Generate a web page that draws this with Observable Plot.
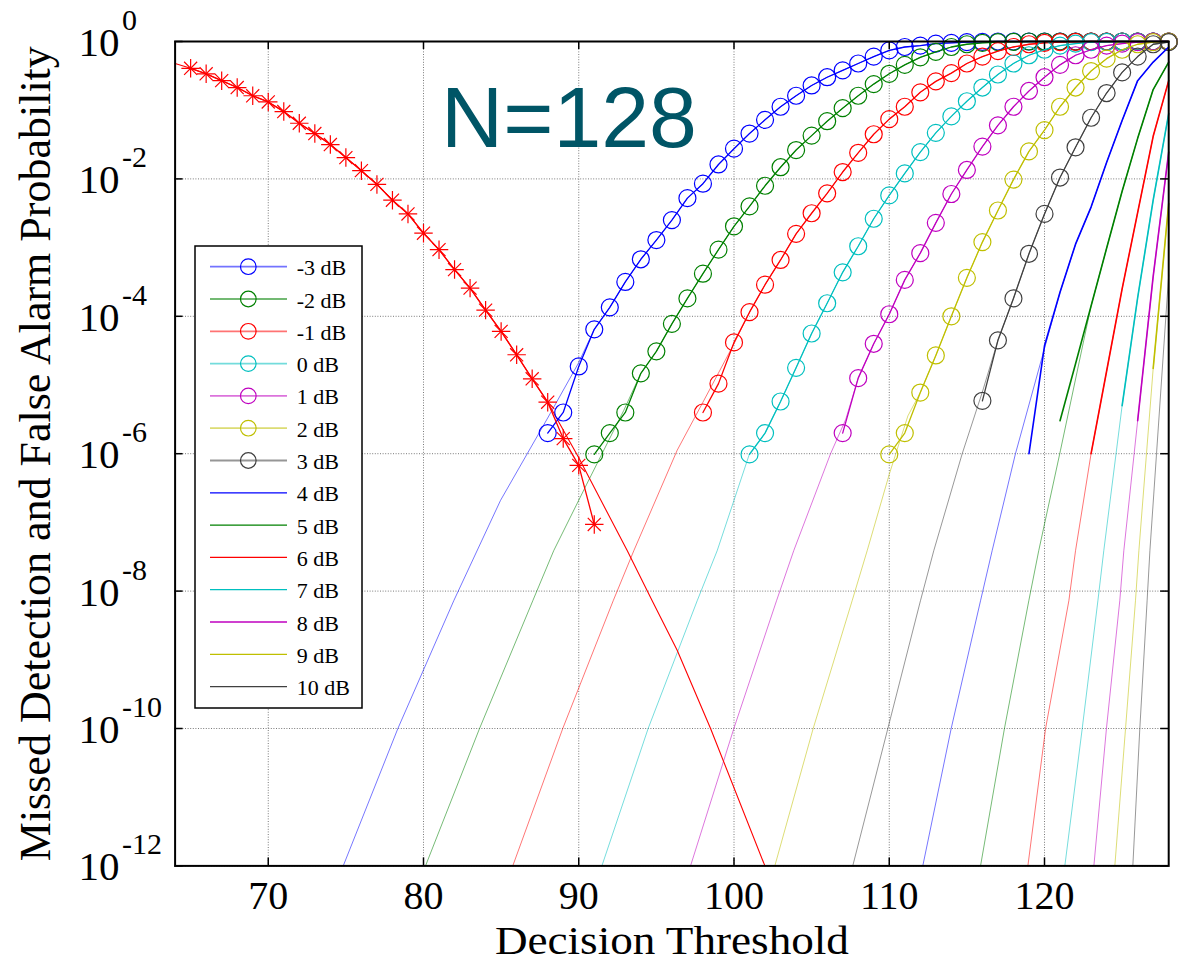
<!DOCTYPE html>
<html>
<head>
<meta charset="utf-8">
<script src="https://cdn.jsdelivr.net/npm/d3@7"></script>
<script src="https://cdn.jsdelivr.net/npm/@observablehq/plot@0.6"></script>
<style>
html, body { margin: 0; padding: 0; background: #fff; }
svg { display: block; }
</style>
</head>
<body>
<div id="chart"></div>
<script>
// ---------------- data ----------------
const snrLabels = ["-3 dB","-2 dB","-1 dB","0 dB","1 dB","2 dB","3 dB","4 dB","5 dB","6 dB","7 dB","8 dB","9 dB","10 dB"];
const snrColors = ["#0000ff","#008000","#ff0000","#00bfbf","#bf00bf","#bfbf00","#404040",
                   "#0000ff","#008000","#ff0000","#00bfbf","#bf00bf","#bfbf00","#404040"];
const xTicks = [70, 80, 90, 100, 110, 120];
const yTickExponents = [0, -2, -4, -6, -8, -10, -12];

// simulated missed-detection probability (log10), one value per integer threshold from simStart
const simStart = [88, 91, 98, 101, 107, 110, 116, 119, 121, 123, 125, 126, 127, null];
const simM3 = [-5.70,-5.40,-4.73,-4.19,-3.87,-3.50,-3.17,-2.89,-2.60,-2.28,-2.07,-1.79,-1.56,-1.34,-1.14,-0.95,-0.79,-0.64,-0.52,-0.42,-0.32,-0.22,-0.13,-0.08,-0.06,-0.03,-0.02,-0.01,-0.005,0,0,0,0,0,0,0,0,0,0,0,0];
const simM2 = [-6.01,-5.70,-5.40,-4.83,-4.51,-4.11,-3.74,-3.38,-3.03,-2.69,-2.40,-2.10,-1.83,-1.58,-1.37,-1.16,-0.97,-0.79,-0.62,-0.47,-0.34,-0.23,-0.15,-0.08,-0.04,-0.02,-0.01,-0.005,0,0,0,0,0,0,0,0,0,0];
const simM1 = [-5.40,-4.98,-4.38,-3.94,-3.54,-3.18,-2.80,-2.50,-2.21,-1.90,-1.62,-1.35,-1.13,-0.95,-0.74,-0.58,-0.46,-0.32,-0.22,-0.14,-0.08,-0.04,-0.02,-0.01,-0.005,0,0,0,0,0,0];
const sim0  = [-6.01,-5.70,-5.24,-4.75,-4.25,-3.81,-3.36,-2.98,-2.58,-2.24,-1.92,-1.61,-1.33,-1.09,-0.87,-0.67,-0.48,-0.32,-0.20,-0.12,-0.06,-0.03,-0.01,-0.005,0,0,0,0];
const sim1  = [-5.70,-4.90,-4.40,-3.97,-3.47,-3.08,-2.64,-2.22,-1.87,-1.53,-1.22,-0.95,-0.72,-0.52,-0.34,-0.20,-0.12,-0.06,-0.03,-0.01,0,0];
const sim2  = [-6.01,-5.70,-5.11,-4.57,-4.00,-3.44,-2.92,-2.46,-2.01,-1.60,-1.29,-0.95,-0.67,-0.43,-0.25,-0.12,-0.04,-0.01,0];
const sim3  = [-5.23,-4.35,-3.74,-3.09,-2.51,-1.98,-1.54,-1.11,-0.75,-0.45,-0.22,-0.04,-0.01];
const sim4  = [-6.00,-4.43,-3.65,-2.95,-2.41,-1.76,-1.15,-0.57,-0.30,-0.08];
const sim5  = [-5.52,-4.69,-3.85,-3.01,-2.18,-1.41,-0.70,-0.30];
const sim6  = [-6.00,-4.80,-3.60,-2.49,-1.38,-0.57];
const sim7  = [-5.30,-3.73,-2.31,-1.05];
const sim8  = [-5.52,-3.42,-1.61];
const sim9  = [-4.76,-2.36];
const sim10 = [];
const simLog = [simM3, simM2, simM1, sim0, sim1, sim2, sim3, sim4, sim5, sim6, sim7, sim8, sim9, sim10];

// theoretical missed-detection lower tails: [threshold, log10 P]
const thM3 = [[74.83,-12],[78.35,-10],[81.95,-8.14],[84.96,-6.68],[88,-5.48],[89.96,-4.69]];
const thM2 = [[80.13,-12],[83.61,-10],[87.04,-8.14],[88.39,-7.41],[90.5,-6.45],[92.9,-5.37]];
const thM1 = [[85.75,-12],[88.97,-10],[92.22,-8.14],[93.55,-7.41],[96.34,-5.95],[98,-5.25],[100,-4.40]];
const th0  = [[91.49,-12],[94.47,-10],[97.63,-8.14],[98.92,-7.41],[101,-6.0]];
const th1  = [[97.2,-12],[99.99,-10],[102.74,-8.14],[103.85,-7.41],[106.22,-6.0],[107.2,-5.5]];
const th2  = [[102.63,-12],[105.1,-10],[107.61,-8.14],[108.58,-7.41],[110,-6.3],[111.2,-5.45]];
const th3  = [[107.65,-12],[109.91,-10],[112.01,-8.14],[112.87,-7.41],[114.7,-6.0],[116,-5.1]];
const th4  = [[112.16,-12],[113.99,-10],[115.88,-8.14],[116.63,-7.41],[118.13,-6.0],[119.96,-4.5]];
const th5  = [[115.88,-12],[117.42,-10],[118.99,-8.14],[119.63,-7.41],[121.03,-5.95],[122.53,-4.35]];
const th6  = [[118.93,-12],[120.07,-10],[121.57,-8.14],[122.0,-7.41]];
const th7  = [[121.31,-12],[122.43,-10],[123.44,-8.14],[123.82,-7.41]];
const th8  = [[123.18,-12],[123.99,-10],[124.85,-8.14],[125.11,-7.41]];
const th9  = [[124.53,-12],[125.22,-10],[125.86,-8.14],[126.08,-7.41]];
const th10 = [[125.69,-12],[126.14,-10],[126.61,-8.14],[126.79,-7.41],[128,-3.4]];
const theoryLow = [thM3, thM2, thM1, th0, th1, th2, th3, th4, th5, th6, th7, th8, th9, th10];

// false alarm: simulated (stars), log10, thresholds 65..91
const faStart = 65;
const faSim = [-0.39,-0.47,-0.57,-0.67,-0.79,-0.88,-1.02,-1.19,-1.34,-1.50,-1.69,-1.88,-2.08,-2.31,-2.51,-2.79,-3.03,-3.32,-3.59,-3.91,-4.22,-4.56,-4.91,-5.25,-5.78,-6.17,-7.03];
// false alarm theory: head and tail (middle follows the stars up to 88)
const faTheoryHead = [[64,-0.32]];
const faTheoryTail = [[90,-6.06],[93.12,-7.41],[94.73,-8.14],[96.34,-8.86],[98.49,-10],[101.99,-12]];

// ---------------- build ----------------
const serif = "'Liberation Serif','Times New Roman',Times,serif";
const fL = 174.6, fR = 1168.2, fT = 41, fB = 865.4;
const W = 1180, H = 962;
const frameH = fB - fT, frameW = fR - fL;

function simPoints(i) {
  const s = simStart[i];
  if (s == null) return [];
  return simLog[i].map((v, k) => ({x: s + k, p: Math.pow(10, v)}));
}
function theoryPoints(i) {
  const low = theoryLow[i].map(([x, v]) => ({x, p: Math.pow(10, v)}));
  const lastX = low[low.length - 1].x;
  return low.concat(simPoints(i).filter(d => d.x > lastX + 0.3));
}
const faSimPts = faSim.map((v, k) => ({x: faStart + k, p: Math.pow(10, v)}));
const faTheoryPts = faTheoryHead.map(([x, v]) => ({x, p: Math.pow(10, v)}))
  .concat(faSimPts.filter(d => d.x <= 88))
  .concat(faTheoryTail.map(([x, v]) => ({x, p: Math.pow(10, v)})));

const marks = [];
// grid
marks.push(Plot.ruleX(xTicks, {stroke: "#7a7a7a", strokeWidth: 1, strokeDasharray: "1,1.6"}));
marks.push(Plot.ruleY(yTickExponents.map(e => Math.pow(10, e)), {stroke: "#7a7a7a", strokeWidth: 1, strokeDasharray: "1,1.6"}));

// thin theoretical curves
snrLabels.forEach((lab, i) => {
  marks.push(Plot.line(theoryPoints(i), {x: "x", y: "p", stroke: snrColors[i], strokeWidth: 0.9, strokeOpacity: 0.6}));
});
// theoretical false alarm
marks.push(Plot.line(faTheoryPts, {x: "x", y: "p", stroke: "#ff0000", strokeWidth: 1.1}));

// simulated curves
snrLabels.forEach((lab, i) => {
  const pts = simPoints(i);
  if (pts.length < 2) return;
  marks.push(Plot.line(pts, {x: "x", y: "p", stroke: snrColors[i], strokeWidth: i < 7 ? 1.3 : 1.6}));
  if (i < 7) marks.push(Plot.dot(pts, {x: "x", y: "p", r: 8.5, stroke: snrColors[i], fill: "none", strokeWidth: 1.2}));
});

// simulated false alarm with stars
marks.push(Plot.line(faSimPts, {x: "x", y: "p", stroke: "#ff0000", strokeWidth: 1.3}));
marks.push(Plot.dot(faSimPts, {x: "x", y: "p", symbol: "plus", r: 6, stroke: "#ff0000", strokeWidth: 1.2}));
marks.push(Plot.dot(faSimPts, {x: "x", y: "p", symbol: "times", r: 6, stroke: "#ff0000", strokeWidth: 1.2}));

// frame & inward ticks
marks.push(Plot.frame({stroke: "#000", strokeWidth: 2}));
marks.push(Plot.ruleX(xTicks, {stroke: "#000", strokeWidth: 1.5, insetTop: frameH - 8}));
marks.push(Plot.ruleX(xTicks, {stroke: "#000", strokeWidth: 1.5, insetBottom: frameH - 8}));
marks.push(Plot.ruleY(yTickExponents.map(e => Math.pow(10, e)), {stroke: "#000", strokeWidth: 1.5, insetRight: frameW - 8}));
marks.push(Plot.ruleY(yTickExponents.map(e => Math.pow(10, e)), {stroke: "#000", strokeWidth: 1.5, insetLeft: frameW - 8}));

// tick labels
marks.push(Plot.text(xTicks, {x: d => d, text: d => String(d), frameAnchor: "bottom", lineAnchor: "top", dy: 14.2, fontSize: 40, fontFamily: serif, fill: "#000"}));
marks.push(Plot.text(yTickExponents, {y: e => Math.pow(10, e), text: () => "10", frameAnchor: "left", textAnchor: "start", lineAnchor: "middle", dx: -96.6, dy: 1.3, fontSize: 41, fontFamily: serif, fill: "#000"}));
marks.push(Plot.text(yTickExponents, {y: e => Math.pow(10, e), text: e => String(e), frameAnchor: "left", textAnchor: "start", lineAnchor: "middle", dx: -53.1, dy: -21.2, fontSize: 30, fontFamily: serif, fill: "#000"}));

// axis titles
marks.push(Plot.text(["Decision Threshold"], {frameAnchor: "bottom", lineAnchor: "top", dy: 59.0, fontSize: 41, fontFamily: serif, fill: "#000"}));
marks.push(Plot.text(["Missed Detection and False Alarm Probability"], {frameAnchor: "left", rotate: -90, textAnchor: "middle", lineAnchor: "middle", dx: -139.1, fontSize: 44, fontFamily: serif, fill: "#000"}));

// annotation
marks.push(Plot.text(["N=128"], {frameAnchor: "top-left", textAnchor: "start", lineAnchor: "top", dx: 266, dy: 44.7, fontSize: 86, fontFamily: "'Liberation Sans', Arial, sans-serif", fill: "#005566"}));

const chart = Plot.plot({
  width: W, height: H,
  marginTop: fT, marginBottom: H - fB, marginLeft: fL, marginRight: W - fR,
  x: {domain: [64, 128], axis: null},
  y: {type: "log", domain: [1e-12, 1], axis: null},
  style: {background: "#fff", fontFamily: serif},
  marks
});

const svg = d3.select(chart);
// the reference's x title is drawn a little wider than the font's natural width
svg.selectAll("text").filter(function() { return this.textContent === "Decision Threshold"; })
  .attr("textLength", 354).attr("lengthAdjust", "spacingAndGlyphs");

// legend box (inside the axes, upper left)
const lg = svg.append("g").attr("text-anchor", "start").attr("font-family", serif);
const lgX = 195, lgY = 246, lgW = 167, lgH = 462;
lg.append("rect").attr("x", lgX).attr("y", lgY).attr("width", lgW).attr("height", lgH)
  .attr("fill", "#fff").attr("stroke", "#000").attr("stroke-width", 1.5);
snrLabels.forEach((lab, i) => {
  const cy = 266.7 + i * 32.3;
  const withMarker = i < 7;
  lg.append("line").attr("x1", 210).attr("x2", 287).attr("y1", cy).attr("y2", cy)
    .attr("stroke", snrColors[i]).attr("stroke-width", withMarker ? 1.8 : 1.3)
    .attr("stroke-opacity", withMarker ? 0.55 : 1);
  if (withMarker) {
    lg.append("circle").attr("cx", 248.3).attr("cy", cy).attr("r", 7.8)
      .attr("fill", "none").attr("stroke", snrColors[i]).attr("stroke-width", 1.2);
  }
  lg.append("text").attr("x", 296.7).attr("y", cy + 8.5)
    .style("font-size", "22px").style("font-family", serif).style("text-anchor", "start")
    .attr("fill", "#000").text(lab);
});

document.getElementById("chart").appendChild(chart);
</script>
</body>
</html>
